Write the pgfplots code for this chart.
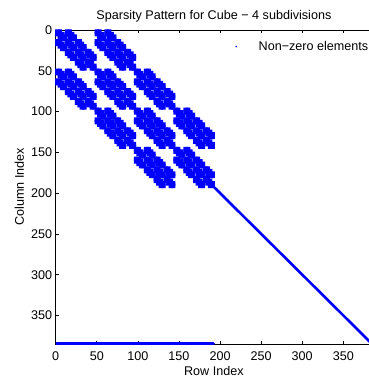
\documentclass[border=0pt]{standalone}
\usepackage{fontspec}
\setmainfont{Liberation Sans}
\usepackage{pgfplots}
\pgfplotsset{compat=1.18}
\definecolor{mblue}{RGB}{0,0,255}
\pgfdeclareplotmark{blob}{%
  \pgfsetcornersarced{\pgfpoint{1.2pt}{1.2pt}}%
  \pgfpathmoveto{\pgfqpoint{0pt}{-2.25pt}}%
  \pgfpathlineto{\pgfqpoint{2.25pt}{-2.25pt}}%
  \pgfpathlineto{\pgfqpoint{2.25pt}{2.25pt}}%
  \pgfpathlineto{\pgfqpoint{-2.25pt}{2.25pt}}%
  \pgfpathlineto{\pgfqpoint{-2.25pt}{-2.25pt}}%
  \pgfpathlineto{\pgfqpoint{0pt}{-2.25pt}}%
  \pgfpathclose
  \pgfusepathqfill}
\newcommand{\fs}{\fontsize{12.6}{15}\selectfont}
\begin{document}
\begin{tikzpicture}
\begin{axis}[
  at={(0,0)}, anchor=south west,
  scale only axis, width=316.4pt, height=314pt,
  xmin=0, xmax=385, ymin=0, ymax=385, y dir=reverse,
  xtick={0,50,...,350}, ytick={0,50,...,350},
  tick align=inside, major tick length=3pt,
  axis line style={line width=0.9pt},
  every tick/.style={black, line width=0.7pt},
  /pgf/number format/assume math mode=true,
  tick label style={font=\fs},
  xticklabel style={anchor=base, yshift=-16.7pt},
  yticklabel style={anchor=east, inner sep=0pt, xshift=-3.4pt},
  title={Sparsity Pattern for Cube − 4 subdivisions},
  title style={font=\fs, at={(axis description cs:0.5,1)}, anchor=base, yshift=4.5pt},
  xlabel={Row Index},
  xlabel style={font=\fs, at={(axis description cs:0.5,0)}, anchor=base, yshift=-31pt},
  ylabel={Column Index},
  every axis y label/.style={font=\fs, at={(axis description cs:-0.1002,0.5)}, rotate=90, anchor=base},
  legend style={draw=none, fill=none, at={(axis description cs:0.543,0.9475)}, anchor=west, font=\fs, inner sep=0pt},
  legend image code/.code={\path[draw=none,fill=none] (0pt,-0.5pt) rectangle (29pt,0.5pt); \fill[mblue,draw=none] (8.5pt,0pt) circle (0.9pt);},
]
\addplot[only marks, mark=blob, color=mblue, x filter/.expression={3*x+2}, y filter/.expression={3*y+2}] coordinates {
(0,0)(1,0)(4,0)(5,0)(16,0)(17,0)(20,0)(21,0)
(0,1)(1,1)(2,1)(4,1)(5,1)(6,1)(16,1)(17,1)(18,1)(20,1)(21,1)(22,1)
(1,2)(2,2)(3,2)(5,2)(6,2)(7,2)(17,2)(18,2)(19,2)(21,2)(22,2)(23,2)
(2,3)(3,3)(6,3)(7,3)(18,3)(19,3)(22,3)(23,3)
(0,4)(1,4)(4,4)(5,4)(8,4)(9,4)(16,4)(17,4)(20,4)(21,4)(24,4)(25,4)
(0,5)(1,5)(2,5)(4,5)(5,5)(6,5)(8,5)(9,5)(10,5)(16,5)(17,5)(18,5)(20,5)(21,5)(22,5)(24,5)(25,5)(26,5)
(1,6)(2,6)(3,6)(5,6)(6,6)(7,6)(9,6)(10,6)(11,6)(17,6)(18,6)(19,6)(21,6)(22,6)(23,6)(25,6)(26,6)(27,6)
(2,7)(3,7)(6,7)(7,7)(10,7)(11,7)(18,7)(19,7)(22,7)(23,7)(26,7)(27,7)
(4,8)(5,8)(8,8)(9,8)(12,8)(13,8)(20,8)(21,8)(24,8)(25,8)(28,8)(29,8)
(4,9)(5,9)(6,9)(8,9)(9,9)(10,9)(12,9)(13,9)(14,9)(20,9)(21,9)(22,9)(24,9)(25,9)(26,9)(28,9)(29,9)(30,9)
(5,10)(6,10)(7,10)(9,10)(10,10)(11,10)(13,10)(14,10)(15,10)(21,10)(22,10)(23,10)(25,10)(26,10)(27,10)(29,10)(30,10)(31,10)
(6,11)(7,11)(10,11)(11,11)(14,11)(15,11)(22,11)(23,11)(26,11)(27,11)(30,11)(31,11)
(8,12)(9,12)(12,12)(13,12)(24,12)(25,12)(28,12)(29,12)
(8,13)(9,13)(10,13)(12,13)(13,13)(14,13)(24,13)(25,13)(26,13)(28,13)(29,13)(30,13)
(9,14)(10,14)(11,14)(13,14)(14,14)(15,14)(25,14)(26,14)(27,14)(29,14)(30,14)(31,14)
(10,15)(11,15)(14,15)(15,15)(26,15)(27,15)(30,15)(31,15)
(0,16)(1,16)(4,16)(5,16)(16,16)(17,16)(20,16)(21,16)(32,16)(33,16)(36,16)(37,16)
(0,17)(1,17)(2,17)(4,17)(5,17)(6,17)(16,17)(17,17)(18,17)(20,17)(21,17)(22,17)(32,17)(33,17)(34,17)(36,17)(37,17)(38,17)
(1,18)(2,18)(3,18)(5,18)(6,18)(7,18)(17,18)(18,18)(19,18)(21,18)(22,18)(23,18)(33,18)(34,18)(35,18)(37,18)(38,18)(39,18)
(2,19)(3,19)(6,19)(7,19)(18,19)(19,19)(22,19)(23,19)(34,19)(35,19)(38,19)(39,19)
(0,20)(1,20)(4,20)(5,20)(8,20)(9,20)(16,20)(17,20)(20,20)(21,20)(24,20)(25,20)(32,20)(33,20)(36,20)(37,20)(40,20)(41,20)
(0,21)(1,21)(2,21)(4,21)(5,21)(6,21)(8,21)(9,21)(10,21)(16,21)(17,21)(18,21)(20,21)(21,21)(22,21)(24,21)(25,21)(26,21)(32,21)(33,21)(34,21)(36,21)(37,21)(38,21)(40,21)(41,21)(42,21)
(1,22)(2,22)(3,22)(5,22)(6,22)(7,22)(9,22)(10,22)(11,22)(17,22)(18,22)(19,22)(21,22)(22,22)(23,22)(25,22)(26,22)(27,22)(33,22)(34,22)(35,22)(37,22)(38,22)(39,22)(41,22)(42,22)(43,22)
(2,23)(3,23)(6,23)(7,23)(10,23)(11,23)(18,23)(19,23)(22,23)(23,23)(26,23)(27,23)(34,23)(35,23)(38,23)(39,23)(42,23)(43,23)
(4,24)(5,24)(8,24)(9,24)(12,24)(13,24)(20,24)(21,24)(24,24)(25,24)(28,24)(29,24)(36,24)(37,24)(40,24)(41,24)(44,24)(45,24)
(4,25)(5,25)(6,25)(8,25)(9,25)(10,25)(12,25)(13,25)(14,25)(20,25)(21,25)(22,25)(24,25)(25,25)(26,25)(28,25)(29,25)(30,25)(36,25)(37,25)(38,25)(40,25)(41,25)(42,25)(44,25)(45,25)(46,25)
(5,26)(6,26)(7,26)(9,26)(10,26)(11,26)(13,26)(14,26)(15,26)(21,26)(22,26)(23,26)(25,26)(26,26)(27,26)(29,26)(30,26)(31,26)(37,26)(38,26)(39,26)(41,26)(42,26)(43,26)(45,26)(46,26)(47,26)
(6,27)(7,27)(10,27)(11,27)(14,27)(15,27)(22,27)(23,27)(26,27)(27,27)(30,27)(31,27)(38,27)(39,27)(42,27)(43,27)(46,27)(47,27)
(8,28)(9,28)(12,28)(13,28)(24,28)(25,28)(28,28)(29,28)(40,28)(41,28)(44,28)(45,28)
(8,29)(9,29)(10,29)(12,29)(13,29)(14,29)(24,29)(25,29)(26,29)(28,29)(29,29)(30,29)(40,29)(41,29)(42,29)(44,29)(45,29)(46,29)
(9,30)(10,30)(11,30)(13,30)(14,30)(15,30)(25,30)(26,30)(27,30)(29,30)(30,30)(31,30)(41,30)(42,30)(43,30)(45,30)(46,30)(47,30)
(10,31)(11,31)(14,31)(15,31)(26,31)(27,31)(30,31)(31,31)(42,31)(43,31)(46,31)(47,31)
(16,32)(17,32)(20,32)(21,32)(32,32)(33,32)(36,32)(37,32)(48,32)(49,32)(52,32)(53,32)
(16,33)(17,33)(18,33)(20,33)(21,33)(22,33)(32,33)(33,33)(34,33)(36,33)(37,33)(38,33)(48,33)(49,33)(50,33)(52,33)(53,33)(54,33)
(17,34)(18,34)(19,34)(21,34)(22,34)(23,34)(33,34)(34,34)(35,34)(37,34)(38,34)(39,34)(49,34)(50,34)(51,34)(53,34)(54,34)(55,34)
(18,35)(19,35)(22,35)(23,35)(34,35)(35,35)(38,35)(39,35)(50,35)(51,35)(54,35)(55,35)
(16,36)(17,36)(20,36)(21,36)(24,36)(25,36)(32,36)(33,36)(36,36)(37,36)(40,36)(41,36)(48,36)(49,36)(52,36)(53,36)(56,36)(57,36)
(16,37)(17,37)(18,37)(20,37)(21,37)(22,37)(24,37)(25,37)(26,37)(32,37)(33,37)(34,37)(36,37)(37,37)(38,37)(40,37)(41,37)(42,37)(48,37)(49,37)(50,37)(52,37)(53,37)(54,37)(56,37)(57,37)(58,37)
(17,38)(18,38)(19,38)(21,38)(22,38)(23,38)(25,38)(26,38)(27,38)(33,38)(34,38)(35,38)(37,38)(38,38)(39,38)(41,38)(42,38)(43,38)(49,38)(50,38)(51,38)(53,38)(54,38)(55,38)(57,38)(58,38)(59,38)
(18,39)(19,39)(22,39)(23,39)(26,39)(27,39)(34,39)(35,39)(38,39)(39,39)(42,39)(43,39)(50,39)(51,39)(54,39)(55,39)(58,39)(59,39)
(20,40)(21,40)(24,40)(25,40)(28,40)(29,40)(36,40)(37,40)(40,40)(41,40)(44,40)(45,40)(52,40)(53,40)(56,40)(57,40)(60,40)(61,40)
(20,41)(21,41)(22,41)(24,41)(25,41)(26,41)(28,41)(29,41)(30,41)(36,41)(37,41)(38,41)(40,41)(41,41)(42,41)(44,41)(45,41)(46,41)(52,41)(53,41)(54,41)(56,41)(57,41)(58,41)(60,41)(61,41)(62,41)
(21,42)(22,42)(23,42)(25,42)(26,42)(27,42)(29,42)(30,42)(31,42)(37,42)(38,42)(39,42)(41,42)(42,42)(43,42)(45,42)(46,42)(47,42)(53,42)(54,42)(55,42)(57,42)(58,42)(59,42)(61,42)(62,42)(63,42)
(22,43)(23,43)(26,43)(27,43)(30,43)(31,43)(38,43)(39,43)(42,43)(43,43)(46,43)(47,43)(54,43)(55,43)(58,43)(59,43)(62,43)(63,43)
(24,44)(25,44)(28,44)(29,44)(40,44)(41,44)(44,44)(45,44)(56,44)(57,44)(60,44)(61,44)
(24,45)(25,45)(26,45)(28,45)(29,45)(30,45)(40,45)(41,45)(42,45)(44,45)(45,45)(46,45)(56,45)(57,45)(58,45)(60,45)(61,45)(62,45)
(25,46)(26,46)(27,46)(29,46)(30,46)(31,46)(41,46)(42,46)(43,46)(45,46)(46,46)(47,46)(57,46)(58,46)(59,46)(61,46)(62,46)(63,46)
(26,47)(27,47)(30,47)(31,47)(42,47)(43,47)(46,47)(47,47)(58,47)(59,47)(62,47)(63,47)
(32,48)(33,48)(36,48)(37,48)(48,48)(49,48)(52,48)(53,48)
(32,49)(33,49)(34,49)(36,49)(37,49)(38,49)(48,49)(49,49)(50,49)(52,49)(53,49)(54,49)
(33,50)(34,50)(35,50)(37,50)(38,50)(39,50)(49,50)(50,50)(51,50)(53,50)(54,50)(55,50)
(34,51)(35,51)(38,51)(39,51)(50,51)(51,51)(54,51)(55,51)
(32,52)(33,52)(36,52)(37,52)(40,52)(41,52)(48,52)(49,52)(52,52)(53,52)(56,52)(57,52)
(32,53)(33,53)(34,53)(36,53)(37,53)(38,53)(40,53)(41,53)(42,53)(48,53)(49,53)(50,53)(52,53)(53,53)(54,53)(56,53)(57,53)(58,53)
(33,54)(34,54)(35,54)(37,54)(38,54)(39,54)(41,54)(42,54)(43,54)(49,54)(50,54)(51,54)(53,54)(54,54)(55,54)(57,54)(58,54)(59,54)
(34,55)(35,55)(38,55)(39,55)(42,55)(43,55)(50,55)(51,55)(54,55)(55,55)(58,55)(59,55)
(36,56)(37,56)(40,56)(41,56)(44,56)(45,56)(52,56)(53,56)(56,56)(57,56)(60,56)(61,56)
(36,57)(37,57)(38,57)(40,57)(41,57)(42,57)(44,57)(45,57)(46,57)(52,57)(53,57)(54,57)(56,57)(57,57)(58,57)(60,57)(61,57)(62,57)
(37,58)(38,58)(39,58)(41,58)(42,58)(43,58)(45,58)(46,58)(47,58)(53,58)(54,58)(55,58)(57,58)(58,58)(59,58)(61,58)(62,58)(63,58)
(38,59)(39,59)(42,59)(43,59)(46,59)(47,59)(54,59)(55,59)(58,59)(59,59)(62,59)(63,59)
(40,60)(41,60)(44,60)(45,60)(56,60)(57,60)(60,60)(61,60)
(40,61)(41,61)(42,61)(44,61)(45,61)(46,61)(56,61)(57,61)(58,61)(60,61)(61,61)(62,61)
(41,62)(42,62)(43,62)(45,62)(46,62)(47,62)(57,62)(58,62)(59,62)(61,62)(62,62)(63,62)
(42,63)(43,63)(46,63)(47,63)(58,63)(59,63)(62,63)(63,63)
};
\addlegendentry{Non−zero elements}
\addplot[mblue, line width=2.6pt, line cap=round, forget plot] coordinates {(193,193) (384,384)};
\addplot[mblue, line width=3pt, line cap=round, forget plot] coordinates {(1,384) (192,384)};
\end{axis}
\pgfresetboundingbox
\path (-55.7pt,-36pt) rectangle (312.3pt,344pt);
\end{tikzpicture}
\end{document}
